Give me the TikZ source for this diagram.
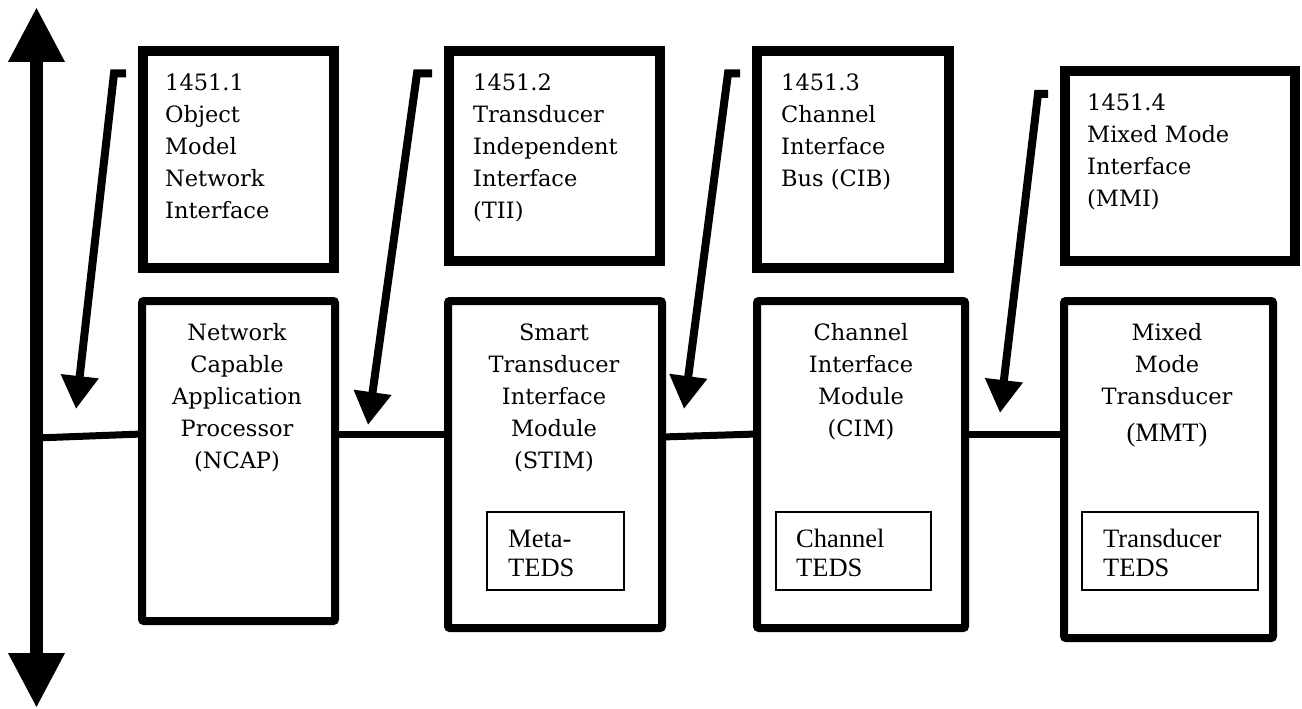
\documentclass[tikz,border=0pt]{standalone}
\usepackage{fontspec}
\setmainfont{DejaVu Serif}
\newfontfamily\tnr{Liberation Serif}
\usetikzlibrary{arrows.meta}
\begin{document}
\begin{tikzpicture}[x=1pt,y=-1pt,
  topbox/.style={draw, line width=10pt, fill=white, outer sep=0pt, inner sep=0pt},
  module/.style={draw, line width=8pt, rounded corners=2pt, fill=white, outer sep=0pt, inner sep=0pt},
  tedsbox/.style={draw, line width=2pt, outer sep=0pt, inner sep=0pt},
  toptext/.style={anchor=base west, align=left, inner sep=0pt, font=\fontsize{22.5}{32}\selectfont},
  modtext/.style={anchor=base, align=center, inner sep=0pt, font=\fontsize{22.5}{32}\selectfont},
  tedstext/.style={anchor=base west, align=left, inner sep=0pt, font=\tnr\fontsize{26.5}{29}\selectfont},
  link/.style={line width=7pt},
  pointer/.style={line width=8pt, line join=miter, -{Triangle[length=33pt,width=36pt]}},
  bus/.style={line width=13pt, {Triangle[length=55pt,width=53pt]}-{Triangle[length=55pt,width=53pt]}}
]
\useasboundingbox (0,0) rectangle (1302,709);

% vertical network bus
\coordinate (bustop) at (36.5,7);
\coordinate (busbot) at (36.5,708);
\coordinate (tap) at (36.5,438);
\draw[bus] (bustop) -- (busbot);

% standard boxes (top row)
\node[topbox, minimum width=191pt, minimum height=217pt] (b1) at (238.5,159.5) {};
\node[topbox, minimum width=211pt, minimum height=210pt] (b2) at (554.5,156) {};
\node[topbox, minimum width=192pt, minimum height=217pt] (b3) at (853,159.5) {};
\node[topbox, minimum width=230pt, minimum height=190pt] (b4) at (1180,166) {};

% (anchor base = baseline of the last line)
\node[toptext] (b1t) at (165,218) {1451.1\\Object\\Model\\Network\\Interface};
\node[toptext] (b2t) at (473,218) {1451.2\\Transducer\\Independent\\Interface\\(TII)};
\node[toptext] (b3t) at (781,186) {1451.3\\Channel\\Interface\\Bus (CIB)};
\node[toptext] (b4t) at (1087,206) {1451.4\\Mixed Mode\\Interface\\(MMI)};

% modules (bottom row)
\node[module, minimum width=193pt, minimum height=320pt] (ncap) at (238.5,461) {};
\node[module, minimum width=214pt, minimum height=327pt] (stim) at (555,464.5) {};
\node[module, minimum width=208pt, minimum height=327pt] (cim) at (861,464.5) {};
\node[module, minimum width=209pt, minimum height=337pt] (mmt) at (1168.5,469.5) {};

\node[modtext] (ncapt) at (237,468) {Network\\Capable\\Application\\Processor\\(NCAP)};
\node[modtext] (stimt) at (554,468) {Smart\\Transducer\\Interface\\Module\\(STIM)};
\node[modtext] (cimt) at (861,436) {Channel\\Interface\\Module\\(CIM)};
\node[modtext] (mmtt) at (1167,404) {Mixed\\Mode\\Transducer};
\node[anchor=base, inner sep=0pt, font=\tnr\fontsize{26.5}{29}\selectfont] (mmtt2) at (1167,441) {(MMT)};

% TEDS boxes
\node[tedsbox, minimum width=137pt, minimum height=78pt] (teds1) at (555.5,551) {};
\node[tedsbox, minimum width=155pt, minimum height=78pt] (teds2) at (853.5,551) {};
\node[tedsbox, minimum width=176pt, minimum height=78pt] (teds3) at (1170,551) {};
\node[tedstext] (teds1t) at (508,576) {Meta-\\TEDS};
\node[tedstext] (teds2t) at (796,576) {Channel\\TEDS};
\node[tedstext] (teds3t) at (1103,576) {Transducer\\TEDS};

% links
\draw[link] (tap) -- ([yshift=-133pt]ncap.north west);
\draw[link] ([yshift=-133pt]ncap.north east) -- ([yshift=-133pt]stim.north west);
\draw[link] ([yshift=-136pt]stim.north east) -- ([yshift=-133pt]cim.north west);
\draw[link] ([yshift=-133pt]cim.north east) -- ([yshift=-133pt]mmt.north west);

% pointer arrows
\coordinate (p1a) at (126,73.5); \coordinate (p1b) at (114,73.5); \coordinate (p1c) at (76,409);
\coordinate (p2a) at (432,73.5); \coordinate (p2b) at (417,73.5); \coordinate (p2c) at (368,425);
\coordinate (p3a) at (740,73.5); \coordinate (p3b) at (728,73.5); \coordinate (p3c) at (684,409);
\coordinate (p4a) at (1048,94); \coordinate (p4b) at (1038,94); \coordinate (p4c) at (1000,413);
\draw[pointer] (p1a) -- (p1b) -- (p1c);
\draw[pointer] (p2a) -- (p2b) -- (p2c);
\draw[pointer] (p3a) -- (p3b) -- (p3c);
\draw[pointer] (p4a) -- (p4b) -- (p4c);
\end{tikzpicture}
\end{document}
